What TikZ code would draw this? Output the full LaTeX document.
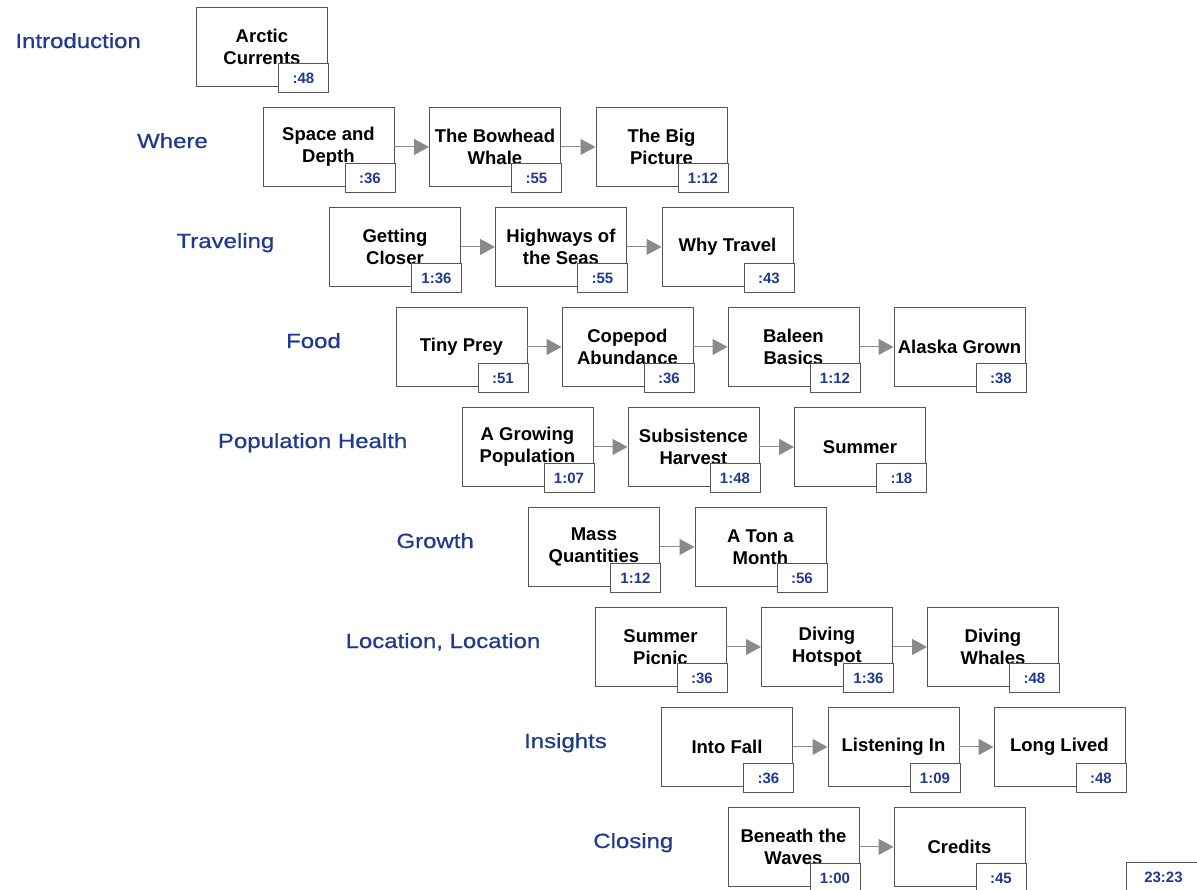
\documentclass[tikz,border=0pt]{standalone}
\usepackage{fontspec}
\setmainfont{Liberation Sans}
\newfontfamily\secfont[FakeStretch=1.17,FakeBold=0.7]{Liberation Sans}
\usetikzlibrary{arrows.meta,calc}
\definecolor{navy}{HTML}{1F3A8F}
\definecolor{edgegray}{HTML}{555555}
\definecolor{arrowgray}{HTML}{8A8A8A}
\newcommand{\mkseg}[5]{%
  \node[seg] (#1) at (#2,#3) {#4};
  \node[tbox] (#1t) at ($(#1.south east)+(1,6)$) {#5};}
\begin{document}
\begin{tikzpicture}[x=1pt,y=-1pt,
  seg/.style={draw=edgegray, line width=0.9pt, fill=white, minimum width=131pt, minimum height=79pt, inner sep=0pt, align=center, font=\fontsize{18.5}{22}\selectfont\bfseries, anchor=north west},
  tbox/.style={draw=edgegray, line width=0.9pt, fill=white, minimum width=50pt, minimum height=29pt, inner sep=0pt, font=\fontsize{15}{18}\selectfont\bfseries, text=navy, anchor=south east},
  sec/.style={font=\secfont\fontsize{20.5}{25}\selectfont, text=navy, anchor=base east, inner sep=0pt},
  link/.style={draw=arrowgray, line width=1pt, -{Triangle[length=15pt,width=16pt]}}]
\useasboundingbox (0,0) rectangle (1197,890);
\clip (0,0) rectangle (1197,890);
\fill[white] (0,0) rectangle (1197,890);
% row 0
\node[sec] (s0) at (141,48) {Introduction};
\mkseg{a1}{196}{7}{Arctic\\Currents}{:48}
% row 1
\node[sec] (s1) at (208,148) {Where};
\mkseg{b1}{262.5}{107}{Space and\\Depth}{:36}
\mkseg{b2}{429}{107}{The Bowhead\\Whale}{:55}
\mkseg{b3}{595.5}{107}{The Big\\Picture}{1:12}
% row 2
\node[sec] (s2) at (274.5,248) {Traveling};
\mkseg{c1}{329}{207}{Getting\\Closer}{1:36}
\mkseg{c2}{495}{207}{Highways of\\the Seas}{:55}
\mkseg{c3}{661.5}{207}{Why Travel}{:43}
% row 3
\node[sec] (s3) at (341,348) {Food};
\mkseg{d1}{395.5}{307}{Tiny Prey}{:51}
\mkseg{d2}{561.5}{307}{Copepod\\Abundance}{:36}
\mkseg{d3}{727.5}{307}{Baleen\\Basics}{1:12}
\mkseg{d4}{893.5}{307}{Alaska Grown}{:38}
% row 4
\node[sec] (s4) at (407.5,448) {Population Health};
\mkseg{e1}{461.5}{407}{A Growing\\Population}{1:07}
\mkseg{e2}{627.5}{407}{Subsistence\\Harvest}{1:48}
\mkseg{e3}{794}{407}{Summer}{:18}
% row 5
\node[sec] (s5) at (474,548) {Growth};
\mkseg{f1}{528}{507}{Mass\\Quantities}{1:12}
\mkseg{f2}{694.5}{507}{A Ton a\\Month}{:56}
% row 6
\node[sec] (s6) at (540.5,648) {Location, Location};
\mkseg{g1}{594.5}{607}{Summer\\Picnic}{:36}
\mkseg{g2}{761}{607}{Diving\\Hotspot}{1:36}
\mkseg{g3}{927}{607}{Diving\\Whales}{:48}
% row 7
\node[sec] (s7) at (607,748) {Insights};
\mkseg{h1}{661}{707}{Into Fall}{:36}
\mkseg{h2}{827.5}{707}{Listening In}{1:09}
\mkseg{h3}{993.5}{707}{Long Lived}{:48}
% row 8
\node[sec] (s8) at (673.5,848) {Closing};
\mkseg{i1}{727.5}{807}{Beneath the\\Waves}{1:00}
\mkseg{i2}{893.5}{807}{Credits}{:45}
\node[tbox, anchor=north west, minimum width=74pt, minimum height=30pt] (total) at (1126,862) {23:23};
% connectors
\draw[link] (b1.east) -- (b2.west);
\draw[link] (b2.east) -- (b3.west);
\draw[link] (c1.east) -- (c2.west);
\draw[link] (c2.east) -- (c3.west);
\draw[link] (d1.east) -- (d2.west);
\draw[link] (d2.east) -- (d3.west);
\draw[link] (d3.east) -- (d4.west);
\draw[link] (e1.east) -- (e2.west);
\draw[link] (e2.east) -- (e3.west);
\draw[link] (f1.east) -- (f2.west);
\draw[link] (g1.east) -- (g2.west);
\draw[link] (g2.east) -- (g3.west);
\draw[link] (h1.east) -- (h2.west);
\draw[link] (h2.east) -- (h3.west);
\draw[link] (i1.east) -- (i2.west);
\end{tikzpicture}
\end{document}
